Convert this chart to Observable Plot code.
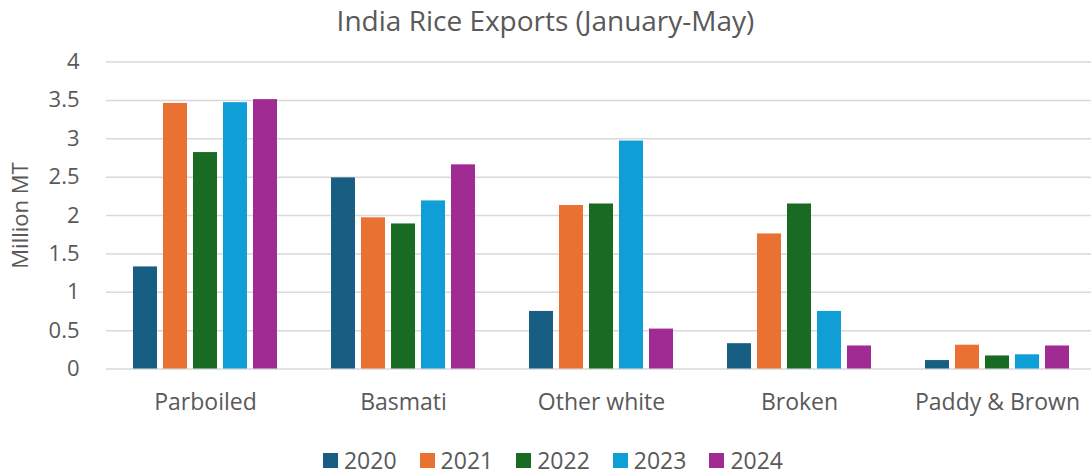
<!DOCTYPE html>
<html>
<head>
<meta charset="utf-8">
<script src="https://cdn.jsdelivr.net/npm/d3@7"></script>
<script src="https://cdn.jsdelivr.net/npm/@observablehq/plot@0.6"></script>
<style>
  html, body { margin: 0; background: #fff; font-family: "Open Sans", sans-serif; color: #595959; overflow: hidden; }
  #title { height: 42px; line-height: 40px; text-align: center; font-size: 28px; color: #595959; }
  #chart { height: 400px; }
  #chart svg { display: block; }
  #legend { box-sizing: border-box; display: flex; justify-content: center; align-items: center; height: 33px; padding-top: 3px; font-size: 23px; color: #595959; padding-left: 38px; }
  #legend .item { display: flex; align-items: center; margin: 0 23px 0 0; }
  #legend .item span { line-height: 1; }
  #legend .sw { width: 15px; height: 15px; margin-right: 6px; }
</style>
</head>
<body>
<div id="title">India Rice Exports (January-May)</div>
<div id="chart"></div>
<div id="legend"></div>
<script>
const categories = ["Parboiled", "Basmati", "Other white", "Broken", "Paddy & Brown"];
const years = ["2020", "2021", "2022", "2023", "2024"];
const v2020 = [1.33, 2.49, 0.75, 0.33, 0.11];
const v2021 = [3.46, 1.97, 2.13, 1.76, 0.31];
const v2022 = [2.82, 1.89, 2.15, 2.15, 0.17];
const v2023 = [3.47, 2.19, 2.97, 0.75, 0.185];
const v2024 = [3.51, 2.66, 0.52, 0.30, 0.30];
const yTicks = [0, 0.5, 1, 1.5, 2, 2.5, 3, 3.5, 4];
const colors = ["#175E82", "#E97132", "#196B24", "#0F9ED5", "#A02B93"];

const series = [v2020, v2021, v2022, v2023, v2024];
const data = [];
categories.forEach((c, i) => {
  years.forEach((y, j) => data.push({category: c, year: y, value: series[j][i]}));
});

const plot = Plot.plot({
  width: 1091,
  height: 400,
  marginTop: 19.5,
  marginBottom: 73.5,
  marginLeft: 104,
  marginRight: -6,
  style: {fontFamily: "'Open Sans', sans-serif", fontSize: "22px", color: "#595959", background: "white"},
  fx: {domain: categories, padding: 0, label: null, axis: null},
  x: {domain: years, paddingInner: 0.21, paddingOuter: 0.82, axis: null},
  y: {domain: [0, 4], label: null, axis: null},
  color: {domain: years, range: colors},
  marks: [
    Plot.gridY(yTicks, {stroke: "#d9d9d9", strokeOpacity: 1, strokeWidth: 1.5}),
    Plot.barY(data, {fx: "category", x: "year", y: "value", fill: "year"}),
    Plot.axisFx({anchor: "bottom", tickSize: 0, tickPadding: 25, label: null, fontSize: 23}),
    Plot.axisY({ticks: yTicks, tickSize: 0, tickPadding: 27, label: "Million MT", labelAnchor: "center", labelArrow: "none", labelOffset: 94, fontSize: 22, tickFormat: d => String(d)})
  ]
});
document.getElementById("chart").appendChild(plot);

const legend = d3.select("#legend");
years.forEach((y, i) => {
  const it = legend.append("div").attr("class", "item");
  it.append("div").attr("class", "sw").style("background", colors[i]);
  it.append("span").text(y);
});
</script>
</body>
</html>
